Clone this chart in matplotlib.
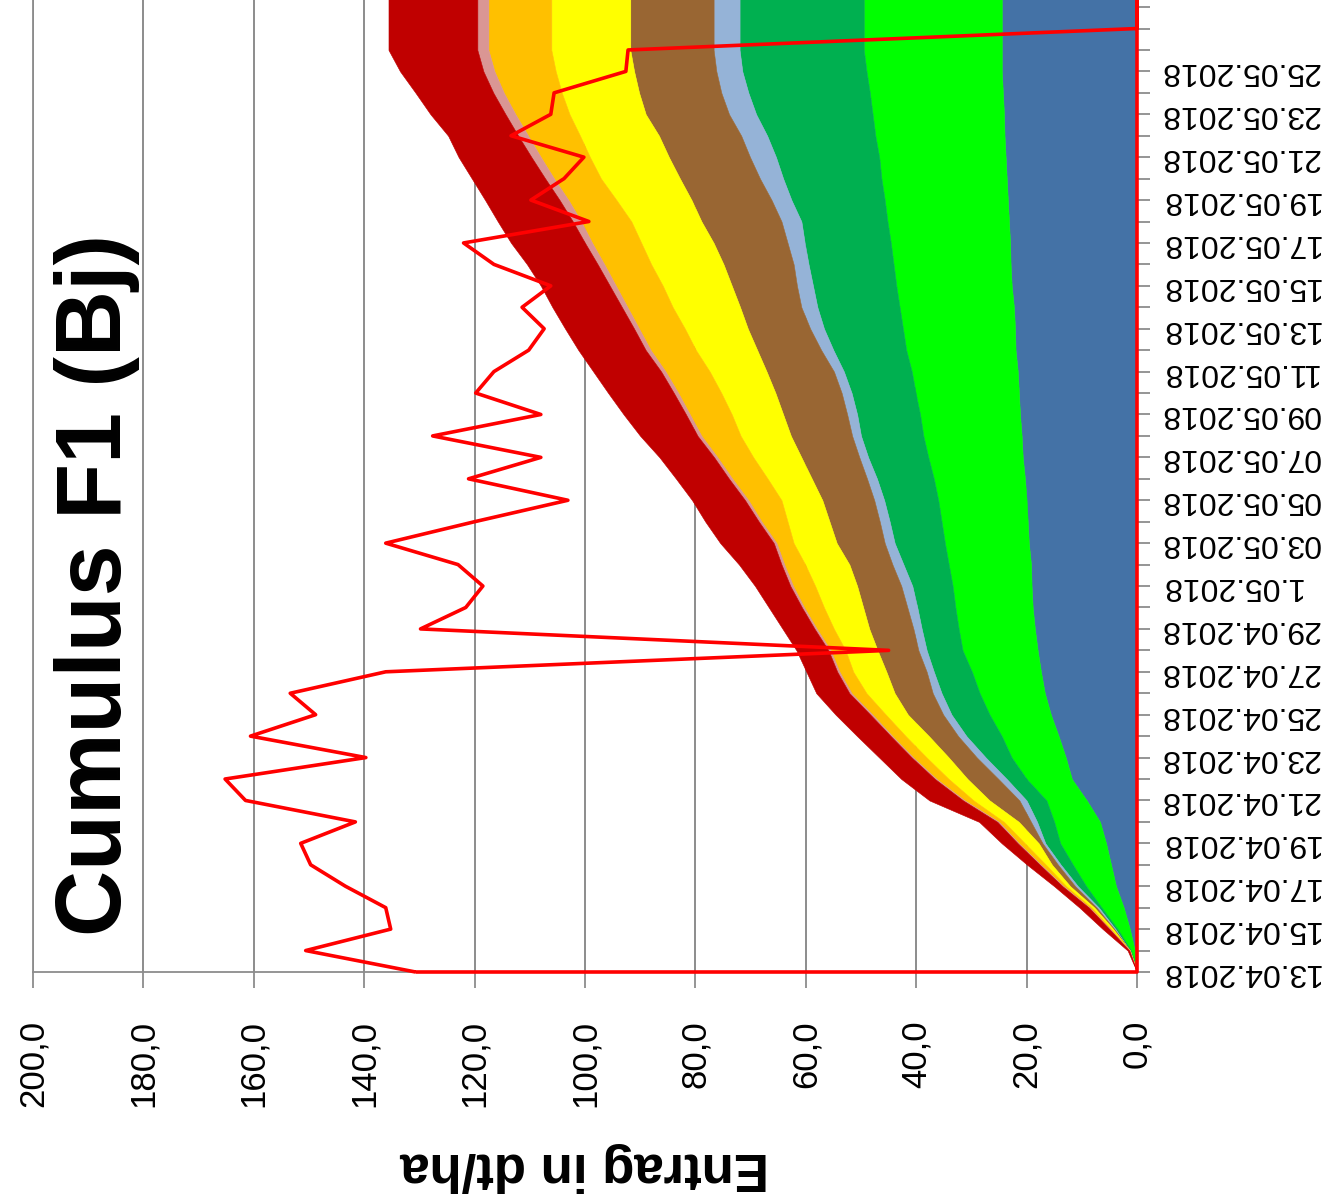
import numpy as np
import matplotlib
matplotlib.use("Agg")
import matplotlib.pyplot as plt

# daily stacked yields (dt/ha), 13.04.2018 .. 29.05.2018
blue = [0, 0.4, 1.3, 2.4, 3.8, 4.7, 5.6, 6.7, 9.1, 11.8,
        12.9, 14.2, 15.6, 16.7, 17.4, 18.0, 18.5, 18.9, 19.1, 19.2,
        19.6, 19.8, 20.0, 20.3, 20.7, 20.9, 21.2, 21.4, 21.6, 22.0,
        22.1, 22.3, 22.7, 22.9, 23.0, 23.2, 23.4, 23.6, 23.8, 24.0,
        24.1, 24.3, 24.5, 24.5, 24.5, 24.5, 24.5]
green = [0, 0.7, 2.2, 4.0, 5.4, 6.9, 8.3, 8.3, 7.3, 8.2,
         9.8, 10.3, 11.1, 11.8, 12.5, 13.6, 13.8, 14.0, 14.3, 14.9,
         15.2, 15.6, 16.0, 16.5, 17.1, 17.8, 18.1, 18.7, 19.2, 19.8,
         20.3, 20.7, 20.9, 21.2, 21.6, 22.0, 22.3, 22.7, 22.9, 23.4,
         23.8, 24.1, 24.5, 25.0, 25.0, 25.0, 25.0]
dark_green = [0, 0.2, 0.4, 0.5, 1.5, 2.2, 2.7, 3.1, 3.6, 3.6,
              4.7, 6.4, 6.9, 6.9, 6.9, 6.5, 6.7, 6.9, 7.3, 8.2,
              9.1, 9.4, 9.8, 10.3, 10.9, 11.3, 11.4, 11.6, 12.3, 13.2,
              14.3, 14.9, 15.1, 15.4, 15.6, 15.6, 16.9, 17.8, 18.7, 19.6,
              21.1, 22.0, 22.5, 22.5, 22.5, 22.5, 22.5]
light_blue = [0, 0, 0.2, 0.4, 0.5, 0.5, 0.5, 1.1, 1.3, 1.5,
              1.6, 1.5, 1.5, 1.6, 1.3, 1.5, 1.5, 1.8, 2.0, 2.0,
              1.8, 1.8, 1.8, 1.8, 1.6, 1.6, 1.8, 1.8, 1.8, 2.2,
              2.5, 2.9, 2.9, 2.7, 3.1, 3.6, 3.6, 4.2, 4.7, 4.7,
              4.9, 4.9, 4.7, 4.7, 4.7, 4.7, 4.7]
brown = [0, 0, 0.2, 0.4, 0.9, 1.1, 0.7, 2.2, 5.4, 5.6,
         5.1, 5.3, 6.4, 6.9, 7.3, 7.4, 8.0, 8.0, 8.0, 7.8,
         8.7, 9.1, 9.4, 10.0, 10.5, 11.1, 11.6, 12.0, 12.2, 11.6,
         11.3, 11.1, 11.8, 12.7, 13.4, 14.5, 14.5, 14.5, 14.7, 14.9,
         15.1, 14.9, 14.9, 15.1, 15.1, 15.1, 15.1]
yellow = [0, 0, 0.4, 0.5, 0.7, 1.1, 2.5, 2.7, 2.9, 3.4,
          4.0, 4.2, 4.0, 5.1, 6.0, 5.8, 6.4, 7.1, 7.6, 8.0,
          7.8, 7.6, 7.4, 8.0, 8.7, 9.1, 9.3, 9.8, 10.3, 11.1,
          11.4, 12.2, 12.5, 13.1, 13.1, 12.7, 13.6, 14.3, 14.3, 14.3,
          13.8, 14.0, 14.2, 14.3, 14.3, 14.3, 14.3]
orange = [0, 0, 0.2, 0.4, 0.5, 0.9, 1.1, 0.9, 1.6, 2.2,
          2.4, 2.4, 2.4, 2.7, 2.5, 2.7, 3.1, 3.6, 4.0, 3.8,
          3.1, 4.7, 6.0, 6.4, 6.5, 7.1, 7.6, 7.8, 8.0, 8.2,
          8.3, 8.2, 8.5, 8.5, 8.9, 9.1, 8.7, 8.5, 8.9, 9.4,
          9.8, 10.5, 11.1, 11.4, 11.4, 11.4, 11.4]
pink = [0, 0.1, 0.1, 0.1, 0.2, 0.2, 0.2, 0.3, 0.3, 0.3,
        0.3, 0.3, 0.4, 0.4, 0.4, 0.4, 0.4, 0.4, 0.5, 0.5,
        0.5, 0.5, 0.6, 0.6, 0.6, 0.7, 0.7, 0.8, 0.8, 0.9,
        0.9, 1.0, 1.1, 1.2, 1.3, 1.5, 1.6, 1.6, 1.7, 1.8,
        1.8, 1.9, 2.0, 2.0, 2.0, 2.0, 2.0]
dark_red = [0, 0.3, 1.2, 1.7, 1.5, 2.3, 2.9, 3.3, 6.1, 6.1,
            5.9, 6.1, 6.3, 6.0, 5.6, 5.8, 5.8, 6.0, 6.4, 7.7,
            9.7, 9.7, 9.6, 9.6, 9.9, 10.4, 11.3, 11.9, 12.3, 12.2,
            12.5, 12.6, 12.5, 12.8, 13.4, 13.6, 13.5, 13.3, 13.2, 12.7,
            13.6, 14.1, 15.1, 16.1, 16.1, 16.1, 16.1]

# red outline series
red = [130.7, 150.6, 135.2, 136.1, 143.4, 149.7, 151.5, 141.6, 161.5, 165.2,
       139.7, 160.6, 148.8, 153.4, 136.1, 45.0, 129.8, 121.6, 118.5, 123.0,
       136.1, 120.0, 103.1, 121.1, 108.0, 127.6, 108.0, 119.8, 116.5, 110.2,
       107.4, 111.4, 106.2, 116.5, 122.0, 99.3, 109.8, 103.8, 100.2, 113.4,
       106.2, 105.6, 92.6, 92.2, 0, 0, 0]

date_labels = ["13.04.2018", "15.04.2018", "17.04.2018", "19.04.2018",
               "21.04.2018", "23.04.2018", "25.04.2018", "27.04.2018",
               "29.04.2018", "1.05.2018", "03.05.2018", "05.05.2018",
               "07.05.2018", "09.05.2018", "11.05.2018", "13.05.2018",
               "15.05.2018", "17.05.2018", "19.05.2018", "21.05.2018",
               "23.05.2018", "25.05.2018"]

value_ticks = [0, 20, 40, 60, 80, 100, 120, 140, 160, 180, 200]

layers = [blue, green, dark_green, light_blue, brown, yellow, orange, pink, dark_red]
colors = ["#4472A6", "#00FF00", "#00B050", "#95B3D7", "#996633",
          "#FFFF00", "#FFC000", "#DA9694", "#C00000"]

fnt = ["Liberation Sans", "DejaVu Sans"]
grid_col = "#8c8c8c"

fig = plt.figure(figsize=(13.26, 12.03), dpi=100)
fig.patch.set_facecolor("white")
ax = fig.add_axes([33 / 1326, 231 / 1203, 1104 / 1326, 972 / 1203])

days = np.arange(len(blue))
lower = np.zeros(len(days))
for vals, col in zip(layers, colors):
    upper = lower + np.array(vals)
    ax.fill_betweenx(days, lower, upper, facecolor=col, edgecolor=col, lw=0.4, zorder=2)
    lower = upper

ax.fill_betweenx(days, 0, red, facecolor="none", edgecolor="#FF0000",
                 lw=2.6, zorder=4, clip_on=False)

ax.set_xticks(value_ticks)
ax.set_xticklabels([f"{v:.1f}".replace(".", ",") for v in value_ticks],
                   family=fnt, fontsize=25)
ax.xaxis.grid(True, color=grid_col, lw=1.4)
ax.set_axisbelow(True)
ax.tick_params(axis="x", direction="out", length=11.5, width=1.3,
               color=grid_col, pad=23, labelrotation=90)

ax.yaxis.tick_right()
ax.set_yticks(days)
ylabels = [""] * len(days)
for i, lab in enumerate(date_labels):
    ylabels[2 * i] = lab
ax.set_yticklabels(ylabels, family=fnt, fontsize=23, rotation=180,
                   ha="left", va="center")
ax.tick_params(axis="y", direction="out", length=9.5, width=1.3,
               color=grid_col, pad=7)

# limits after the ticks, so the tick list does not widen the view
ax.set_xlim(200, 0)
ax.set_ylim(0, 45.33)

ax.spines["top"].set_visible(False)
for s in ["left", "bottom", "right"]:
    ax.spines[s].set_color(grid_col)
    ax.spines[s].set_linewidth(1.3)

fig.text(97 / 1326, 1 - 585 / 1203, "Cumulus F1 (Bj)", rotation=90,
         ha="center", va="center", fontsize=66, fontweight="bold", family=fnt)
fig.text(585 / 1326, 1 - 1167 / 1203, "Entrag in dt/ha", rotation=180,
         ha="center", va="center", fontsize=38, fontweight="bold", family=fnt)

fig.savefig("out.png", dpi=100)
